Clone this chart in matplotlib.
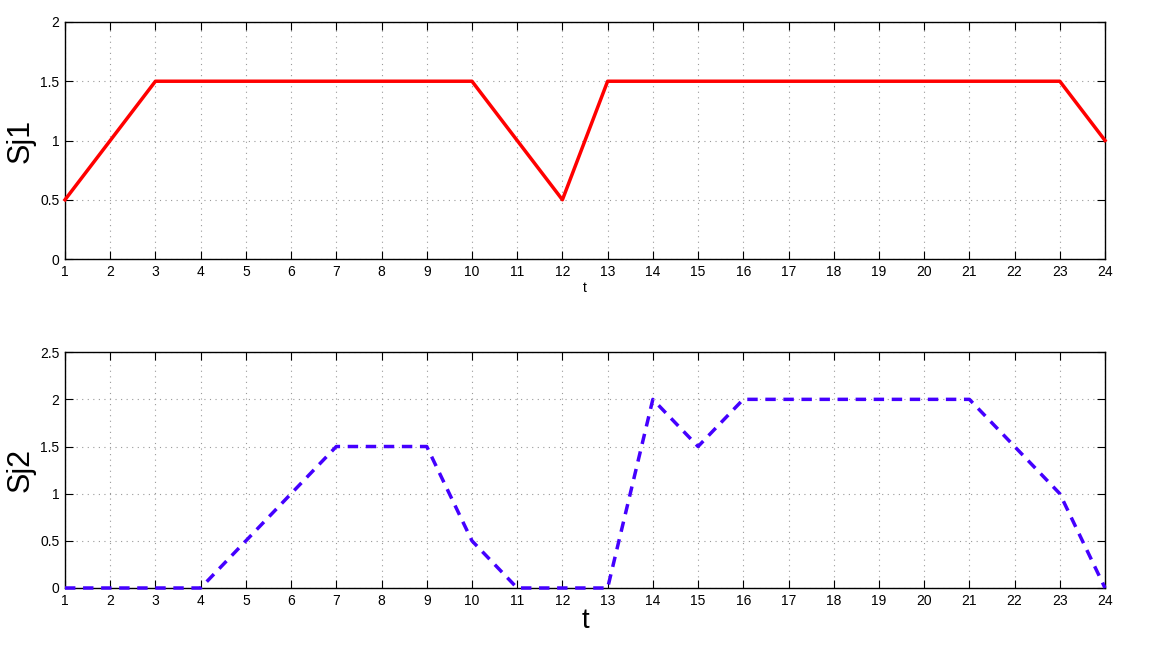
import matplotlib
matplotlib.use("Agg")

import matplotlib.pyplot as plt

plt.rcParams["font.family"] = ["Liberation Sans", "DejaVu Sans"]

t = list(range(1, 25))
sj1 = [0.5, 1, 1.5, 1.5, 1.5, 1.5, 1.5, 1.5, 1.5, 1.5, 1, 0.5,
       1.5, 1.5, 1.5, 1.5, 1.5, 1.5, 1.5, 1.5, 1.5, 1.5, 1.5, 1]
sj2 = [0, 0, 0, 0, 0.5, 1, 1.5, 1.5, 1.5, 0.5, 0, 0,
       0, 2, 1.5, 2, 2, 2, 2, 2, 2, 1.5, 1, 0]
sj1_ticks = [0, 0.5, 1, 1.5, 2]
sj2_ticks = [0, 0.5, 1, 1.5, 2, 2.5]

fig = plt.figure(figsize=(11.67, 6.46), dpi=100)
ax1 = fig.add_axes([0.0557, 0.599, 0.8912, 0.367])
ax2 = fig.add_axes([0.0557, 0.0898, 0.8912, 0.365])


def style(ax, yticks):
    ax.set_xlim(1, 24)
    ax.set_ylim(yticks[0], yticks[-1])
    ax.set_xticks(t)
    ax.set_yticks(yticks)
    ax.set_yticklabels([f"{v:g}" for v in yticks])
    ax.tick_params(direction="in", top=True, right=True, labelsize=10,
                   length=6, width=0.8, pad=4)
    ax.grid(True, linestyle=(0, (1, 4)), color="#999999", linewidth=0.8)
    for s in ax.spines.values():
        s.set_linewidth(1.0)


ax1.plot(t, sj1, color="#ff0000", linewidth=2.5, clip_on=False, zorder=3)
style(ax1, sj1_ticks)
ax1.set_ylabel("Sj1", fontsize=22, labelpad=3)
ax1.set_xlabel("t", fontsize=10, labelpad=2)

ax2.plot(t, sj2, color="#4400ff", linewidth=2.5, linestyle=(0, (3, 2.2)),
         clip_on=False, zorder=3)
style(ax2, sj2_ticks)
ax2.set_ylabel("Sj2", fontsize=22, labelpad=3)
ax2.set_xlabel("t", fontsize=20, labelpad=0)

plt.savefig("out.png", dpi=100)
plt.close()
